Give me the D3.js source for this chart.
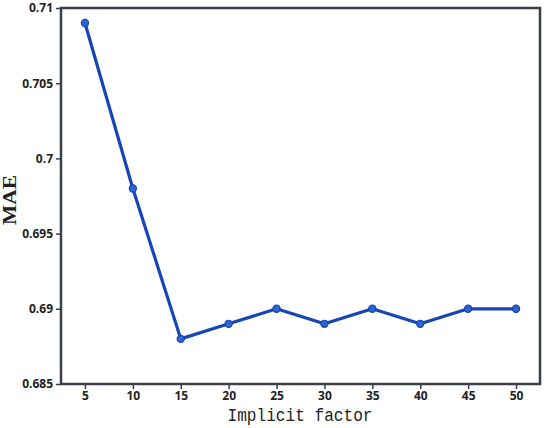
<!DOCTYPE html>
<html><head><meta charset="utf-8">
<script src="https://cdn.jsdelivr.net/npm/d3@7"></script>
<style>body{margin:0;background:#fff}</style>
</head><body>
<script>
const factors = [5,10,15,20,25,30,35,40,45,50];
const mae = [0.709,0.698,0.688,0.689,0.690,0.689,0.690,0.689,0.690,0.690];
const yTicks = [0.685,0.69,0.695,0.7,0.705,0.71];
const yTickLabels = ["0.685","0.69","0.695","0.7","0.705","0.71"];

const W=550,H=428;
const m={l:61,t:8,r:10,b:44};
const svg=d3.select("body").append("svg").attr("width",W).attr("height",H);
const x=d3.scaleLinear().domain([2.5,52.5]).range([m.l,W-m.r]);
const y=d3.scaleLinear().domain([0.685,0.71]).range([H-m.b,m.t]);
const axisCol="#3a3f4a";

const xa=svg.append("g").attr("transform",`translate(0,${H-m.b})`)
  .call(d3.axisBottom(x).tickValues(factors).tickSize(5).tickSizeOuter(0).tickPadding(2));
const ya=svg.append("g").attr("transform",`translate(${m.l},0)`)
  .call(d3.axisLeft(y).tickValues(yTicks).tickFormat((d,i)=>yTickLabels[i]).tickSize(5).tickSizeOuter(0).tickPadding(3));
[xa,ya].forEach(a=>{
  a.select(".domain").remove();
  a.selectAll("line").attr("stroke",axisCol).attr("stroke-width",1.5);
  a.selectAll("text").attr("fill","#222").attr("font-family","'Open Sans',sans-serif").attr("font-weight","bold").attr("font-size",12);
});
svg.append("rect").attr("x",m.l).attr("y",m.t).attr("width",W-m.r-m.l).attr("height",H-m.b-m.t)
  .attr("fill","none").attr("stroke",axisCol).attr("stroke-width",2.5);

const line=d3.line().x((d,i)=>x(factors[i])).y(d=>y(d));
svg.append("path").datum(mae).attr("d",line).attr("fill","none").attr("stroke","#1446b4").attr("stroke-width",3.2).attr("stroke-linejoin","round");
svg.selectAll("circle.pt").data(mae).enter().append("circle").attr("class","pt")
  .attr("cx",(d,i)=>x(factors[i])).attr("cy",d=>y(d)).attr("r",3.6)
  .attr("fill","#2f63d0").attr("stroke","#1446b4").attr("stroke-width",1.2);

svg.append("text").attr("x",300).attr("y",421).attr("text-anchor","middle")
  .attr("font-family","'Liberation Mono',monospace").attr("font-size",18).attr("fill","#222")
  .attr("textLength",145).attr("lengthAdjust","spacingAndGlyphs").text("Implicit factor");
svg.append("text").attr("transform",`translate(16,200) rotate(-90)`).attr("text-anchor","middle")
  .attr("font-family","'Liberation Serif',serif").attr("font-weight","bold").attr("font-size",18).attr("fill","#222")
  .attr("textLength",50).attr("lengthAdjust","spacingAndGlyphs").text("MAE");
</script>
</body></html>
